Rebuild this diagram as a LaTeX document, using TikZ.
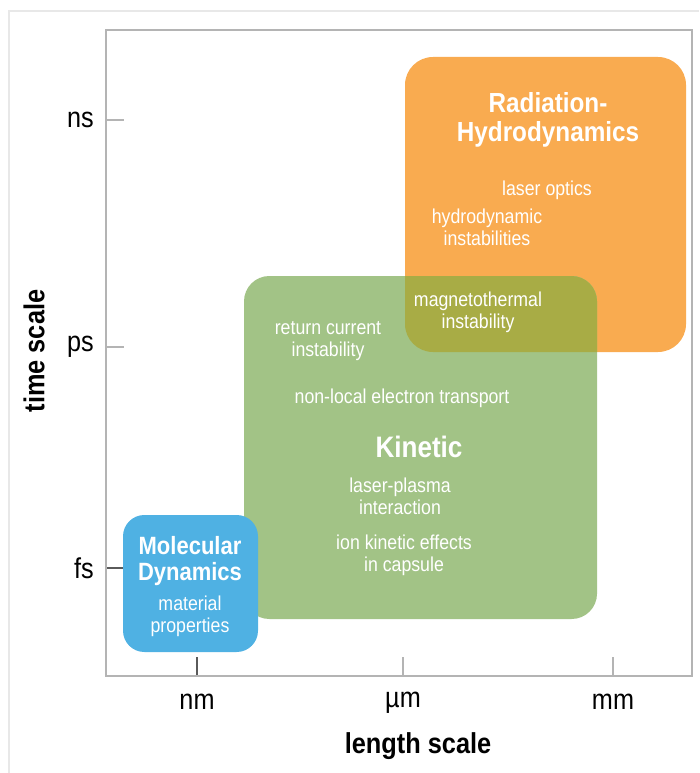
\documentclass[tikz,border=0pt]{standalone}
\usepackage{fontspec}
\setmainfont[FakeStretch=0.88]{Liberation Sans}

\definecolor{radorange}{HTML}{F9AB50}
\definecolor{kingreen}{HTML}{A2C386}
\definecolor{mixolive}{HTML}{A8AC45}
\definecolor{mdblue}{HTML}{4FB1E3}
\definecolor{axisgray}{HTML}{B4B4B4}
\definecolor{tickdark}{HTML}{5A5A5A}
\definecolor{framegray}{HTML}{E8E8E8}

\begin{document}
\begin{tikzpicture}[x=0.75pt,y=-0.75pt,
    every node/.style={inner sep=0pt},
    boxtext/.style={text=white,align=center,font=\fontsize{15.1}{16.5}\selectfont},
    boxtitle/.style={text=white,align=center,font=\bfseries\fontsize{20.7}{21.8}\selectfont},
    ticklabel/.style={font=\fontsize{21.5}{22}\selectfont},
    axislabel/.style={font=\bfseries\fontsize{21.6}{22}\selectfont}]
  \useasboundingbox (0,0) rectangle (699,773);
  \draw[framegray,line width=1pt] (9,773) -- (9,11) -- (699,11);

  % regions
  \fill[radorange,rounded corners=21pt] (405,57) rectangle (686,352);
  \fill[kingreen,rounded corners=19pt] (244,276) rectangle (597,619);
  \begin{scope}
    \clip[rounded corners=21pt] (405,57) rectangle (686,352);
    \fill[mixolive,rounded corners=19pt] (244,276) rectangle (597,619);
  \end{scope}
  \fill[mdblue,rounded corners=16pt] (123,515) rectangle (258,652);

  % axes and ticks
  \draw[axisgray,line width=2.2pt] (106,30) rectangle (692,676);
  \draw[axisgray,line width=1.5pt] (107,120) -- (124,120);
  \draw[axisgray,line width=1.5pt] (107,347) -- (124,347);
  \draw[tickdark,line width=1.5pt] (107,568) -- (123,568);
  \draw[tickdark,line width=1.5pt] (197,657) -- (197,675);
  \draw[axisgray,line width=1.5pt] (403,657) -- (403,675);
  \draw[axisgray,line width=1.5pt] (613,657) -- (613,675);

  \node[ticklabel,anchor=east] (ns) at (94,120) {ns};
  \node[ticklabel,anchor=east] (ps) at (94,347) {ps};
  \node[ticklabel,anchor=east] (fs) at (94,568) {fs};
  \node[ticklabel] (nm) at (197,702) {nm};
  \node[ticklabel] (um) at (403,703) {µm};
  \node[ticklabel] (mm) at (613,702) {mm};
  \node[axislabel] (xlabel) at (418,746) {length scale};
  \node[axislabel,rotate=90] (ylabel) at (34,351) {time scale};

  % radiation-hydrodynamics
  \node[boxtitle] (radhydro) at (548,120) {Radiation-\\Hydrodynamics};
  \node[boxtext] (optics) at (547,190) {laser optics};
  \node[boxtext] (hydroinst) at (487,227) {hydrodynamic\\instabilities};
  \node[boxtext] (magneto) at (478,312) {magnetothermal\\instability};

  % kinetic
  \node[boxtext] (retcur) at (328,341) {return current\\instability};
  \node[boxtext] (nonlocal) at (402,398) {non-local electron transport};
  \node[boxtitle,font=\bfseries\fontsize{22.2}{22}\selectfont] (kinetic) at (419,447) {Kinetic};
  \node[boxtext] (lpi) at (400,496) {laser-plasma\\interaction};
  \node[boxtext] (ionkin) at (404,555) {ion kinetic effects\\in capsule};

  % molecular dynamics
  \node[boxtitle,font=\bfseries\fontsize{18.75}{18.8}\selectfont] (moldyn) at (190,561) {Molecular\\Dynamics};
  \node[boxtext] (matprop) at (190,616) {material\\properties};
\end{tikzpicture}
\end{document}
